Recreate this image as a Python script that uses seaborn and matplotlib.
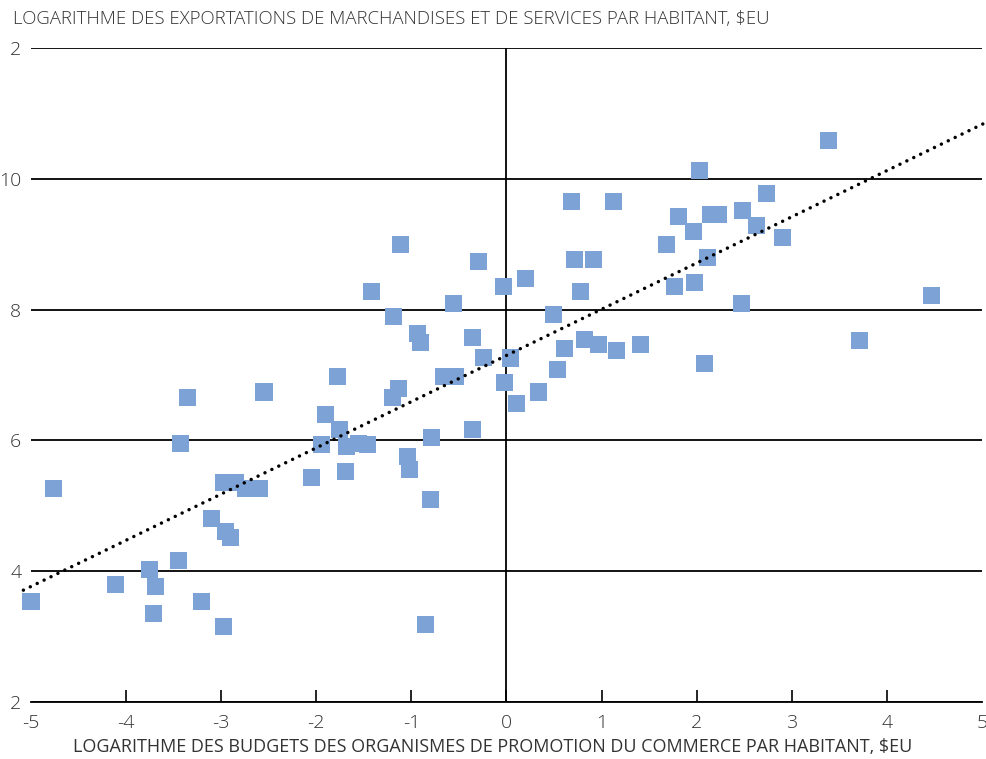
import matplotlib.pyplot as plt
import numpy as np
import pandas as pd
import seaborn as sns

# Data
budget = [
    -5.00, -4.76, -4.11, -3.75, -3.69, -3.71, -3.45, -3.43, -3.35, -3.21,
    -3.10, -2.98, -2.95, -2.90, -2.98, -2.85, -2.74, -2.60, -2.55, -2.05,
    -1.95, -1.90, -1.78, -1.76, -1.69, -1.68, -1.56, -1.46, -1.42, -1.19,
    -1.20, -1.14, -1.11, -1.04, -1.02, -0.94, -0.90, -0.85, -0.80, -0.79,
    -0.66, -0.54, -0.56, -0.36, -0.36, -0.29, -0.24, -0.03, -0.02, 0.04,
    0.11, 0.20, 0.34, 0.49, 0.54, 0.61, 0.68, 0.72, 0.78, 0.82,
    0.91, 0.97, 1.16, 1.13, 1.41, 1.68, 1.77, 1.81, 1.97, 1.98,
    2.03, 2.08, 2.11, 2.14, 2.23, 2.47, 2.48, 2.63, 2.73, 2.90,
    3.39, 3.71, 4.47,
]
exports = [
    3.54, 5.27, 3.80, 4.03, 3.77, 3.35, 4.17, 5.96, 6.65, 3.53,
    4.81, 3.15, 4.60, 4.52, 5.35, 5.36, 5.27, 5.27, 6.74, 5.43,
    5.93, 6.39, 6.97, 6.16, 5.53, 5.90, 5.96, 5.93, 8.28, 7.89,
    6.66, 6.79, 9.00, 5.76, 5.55, 7.63, 7.50, 3.18, 5.09, 6.05,
    6.97, 6.97, 8.09, 6.17, 7.58, 8.73, 7.27, 8.35, 6.88, 7.26,
    6.57, 8.47, 6.74, 7.92, 7.08, 7.40, 9.66, 8.77, 8.28, 7.55,
    8.76, 7.46, 7.37, 9.65, 7.46, 8.99, 8.36, 9.43, 9.20, 8.41,
    10.13, 7.17, 8.80, 9.46, 9.46, 8.10, 9.52, 9.28, 9.78, 9.10,
    10.59, 7.52, 8.21,
]

x_ticks = [-5, -4, -3, -2, -1, 0, 1, 2, 3, 4, 5]
y_ticks = [2, 4, 6, 8, 10, 12]
y_tick_labels = ["2", "4", "6", "8", "10", "2"]

x_title = "LOGARITHME DES BUDGETS DES ORGANISMES DE PROMOTION DU COMMERCE PAR HABITANT, $EU"
y_title = "LOGARITHME DES EXPORTATIONS DE MARCHANDISES ET DE SERVICES PAR HABITANT, $EU"

df = pd.DataFrame({"budget": budget, "exports": exports})

sns.set_theme(style="white")
plt.rcParams["font.family"] = ["Open Sans", "DejaVu Sans"]
plt.rcParams["font.weight"] = "light"
plt.rcParams["axes.unicode_minus"] = False
text_color = "#333333"

fig = plt.figure(figsize=(9.87, 7.59), dpi=100)
ax = fig.add_axes([31 / 987, 1 - 702 / 759, 951 / 987, 654 / 759])

# Points
sns.scatterplot(data=df, x="budget", y="exports", marker="s", s=150,
                color="#7DA2D6", edgecolor="none", linewidth=0, zorder=3,
                clip_on=False, ax=ax)

# Linear trend (least squares)
slope, intercept = np.polyfit(df["budget"], df["exports"], 1)
xs = np.array([-5.08, 5.05])
ax.plot(xs, slope * xs + intercept, color="black", lw=2.5,
        linestyle=(0, (0.01, 2.2)), dash_capstyle="round", zorder=4, clip_on=False)

ax.axvline(0, color="black", lw=1.3, zorder=1)

ax.set_xlim(-5, 5)
ax.set_ylim(2, 12)
ax.set_xticks(x_ticks)
ax.set_yticks(y_ticks)
ax.set_yticklabels(y_tick_labels)
ax.yaxis.grid(True, color="black", lw=1.3)
ax.xaxis.grid(False)

for side in ["left", "right", "top"]:
    ax.spines[side].set_visible(False)
ax.spines["bottom"].set_color("black")
ax.spines["bottom"].set_linewidth(1.3)

ax.tick_params(axis="x", direction="in", length=9, width=1.2, color="black",
               pad=9, labelsize=14, labelcolor=text_color, bottom=True)
ax.tick_params(axis="y", length=0, pad=7, labelsize=14, labelcolor=text_color)
ticks = ax.xaxis.get_major_ticks()
ticks[0].tick1line.set_visible(False)
ticks[-1].tick1line.set_visible(False)

ax.set_xlabel(x_title, fontsize=13, color=text_color)
ax.xaxis.set_label_coords((493 - 31) / 951, -0.055)
ax.set_ylabel("")
fig.text(13 / 987, 1 - 19 / 759, y_title, fontsize=13.4, color=text_color,
         ha="left", va="center")

fig.savefig("out.png", dpi=100)
